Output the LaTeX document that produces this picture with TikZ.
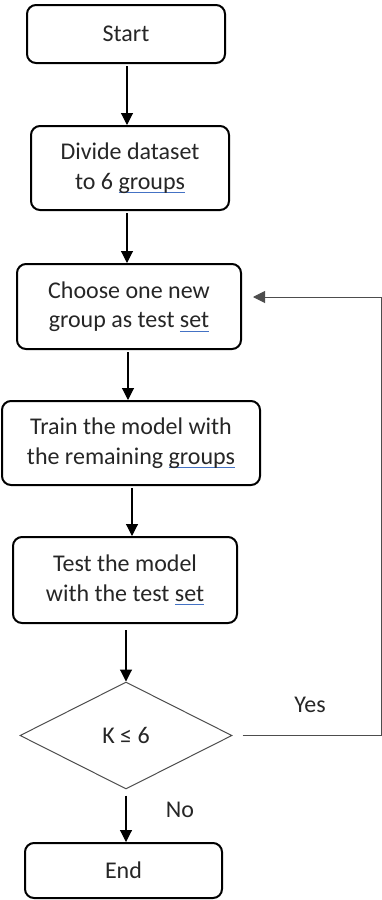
\documentclass[tikz,border=0pt]{standalone}
\usepackage{fontspec}
\setmainfont{Carlito}
\usetikzlibrary{shapes.geometric,arrows.meta}

\definecolor{inkgray}{HTML}{262626}
\definecolor{rulegray}{HTML}{4D4D4D}
\definecolor{spellblue}{HTML}{4472C4}

% word with a thin blue underline beneath it
\newcommand{\markedword}[1]{\setbox0\hbox{#1}\rlap{\textcolor{spellblue}{\rule[-4pt]{\wd0}{0.9pt}}}\box0}

\tikzset{
  stepbox/.style={draw=black, line width=2pt, rounded corners=9pt, align=center,
    inner sep=0pt, text=inkgray},
  decision/.style={draw=rulegray, line width=1pt, shape=diamond, inner sep=0pt,
    minimum width=212pt, minimum height=107pt, text=inkgray},
  flow/.style={draw=black, line width=1.1pt, -{Triangle[width=12pt,length=12pt]}},
  lbl/.style={text=inkgray}
}

\begin{document}
\begin{tikzpicture}[x=1pt,y=-1pt,font=\fontsize{24}{29.5}\selectfont]
  \useasboundingbox (0,0) rectangle (382,900);

  \node[stepbox, minimum width=198pt, minimum height=58pt] (start) at (126,34) {Start};
  \node[stepbox, minimum width=198pt, minimum height=84pt] (divide) at (130,168)
    {Divide dataset\\to 6 \markedword{groups}};
  \node[stepbox, minimum width=224pt, minimum height=85pt] (choose) at (129,306.5)
    {Choose one new\\group as test \markedword{set}};
  \node[stepbox, minimum width=258pt, minimum height=84pt] (train) at (131,443)
    {Train the model with\\the remaining \markedword{groups}};
  \node[stepbox, minimum width=224pt, minimum height=86pt] (test) at (125,580)
    {Test the model\\with the test \markedword{set}};
  \node[decision] (check) at (126,735.5) {K ≤ 6};
  \node[stepbox, minimum width=197pt, minimum height=55pt] (finish) at (123.5,870.5) {End};

  \node[lbl] (yes) at (310,705) {Yes};
  \node[lbl] (no) at (180,810) {No};

  \coordinate (corner) at (381,297);
  \coordinate (back) at (253,297);

  \draw[flow, shorten <=3pt] (127,63) coordinate (a1) -- (a1 |- divide.north);
  \draw[flow, shorten <=3pt] (127,210) coordinate (a2) -- (a2 |- choose.north);
  \draw[flow, shorten <=3pt] (128,349) coordinate (a3) -- (a3 |- train.north);
  \draw[flow, shorten <=3pt] (132,485) coordinate (a4) -- (a4 |- test.north);
  \draw[flow, shorten <=7pt] (126,623) coordinate (a5) -- (a5 |- check.north);
  \draw[flow, shorten <=6pt] (check.south) -- (check.south |- finish.north);

  \draw[draw=rulegray, line width=1pt, -{Triangle[width=12pt,length=12pt]}, shorten <=10pt]
    (check.east) -- (check.east -| corner) -- (corner) -- (back);
\end{tikzpicture}
\end{document}
